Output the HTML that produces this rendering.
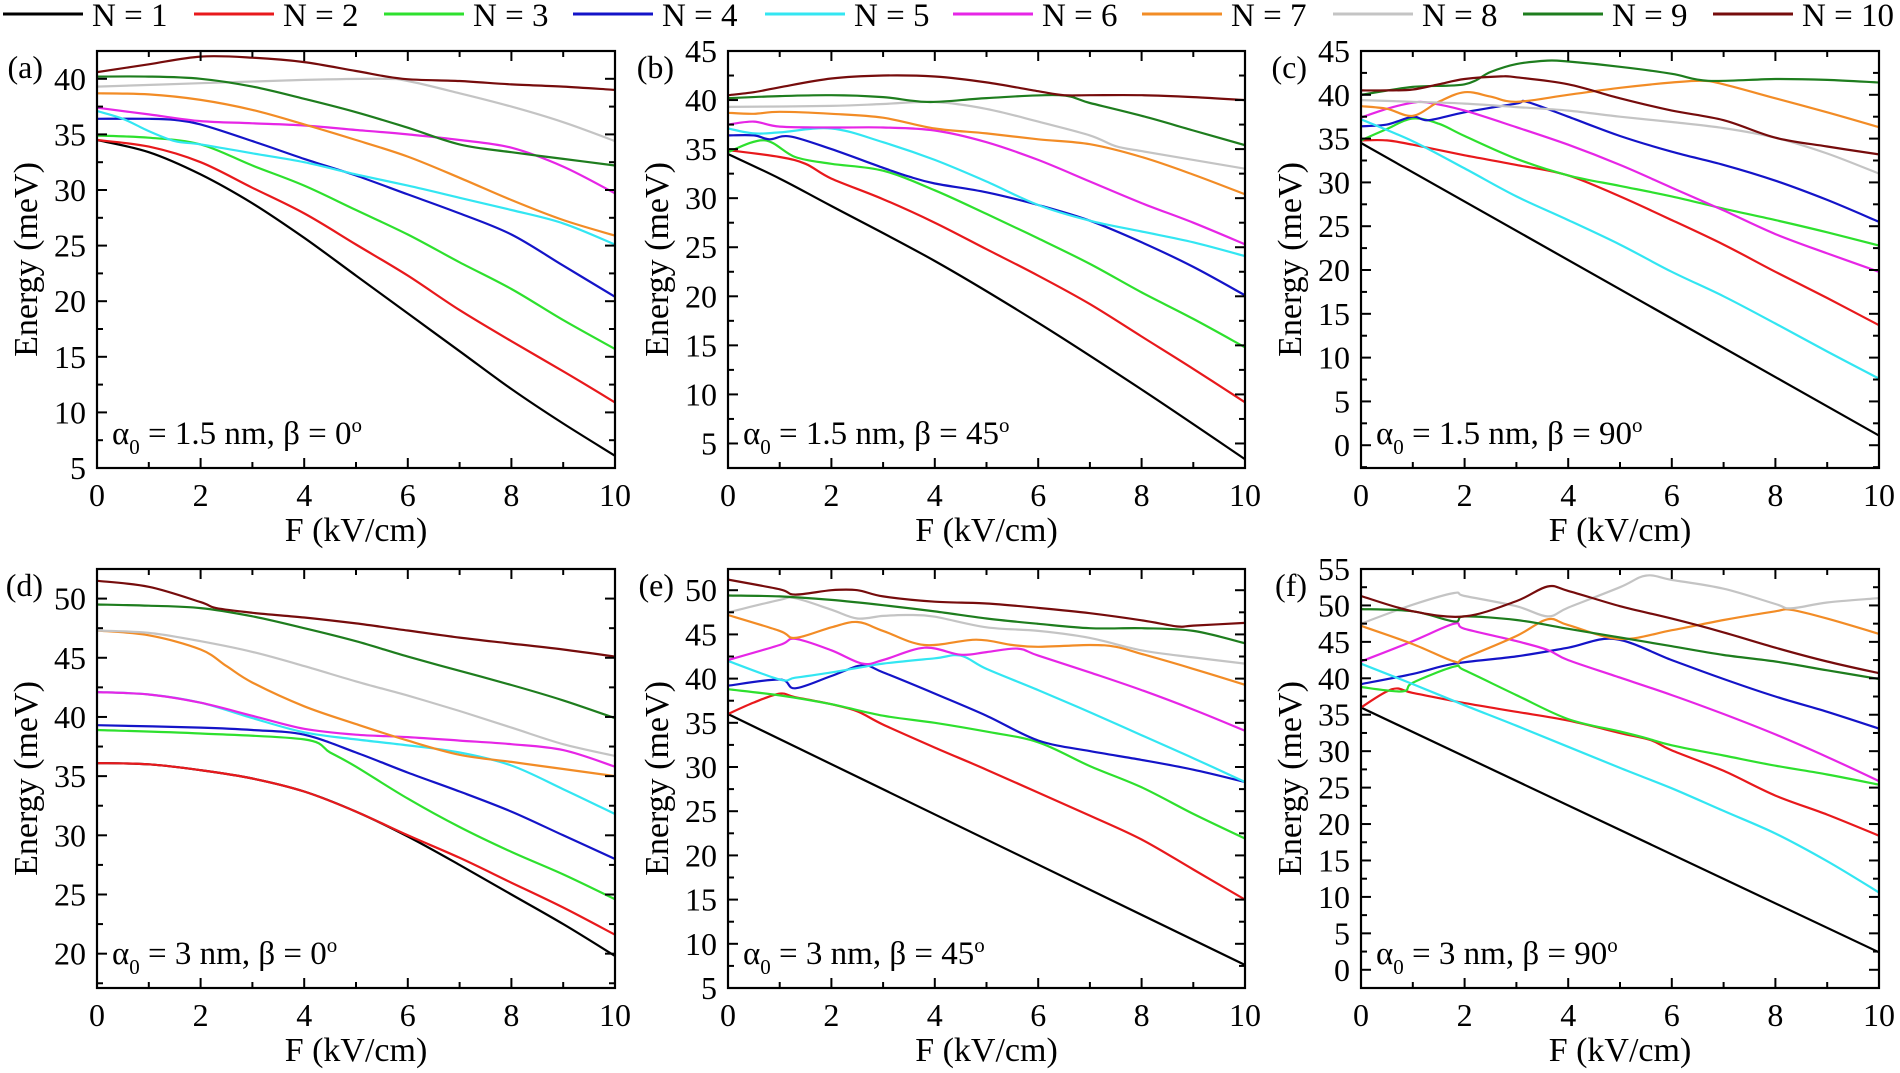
<!DOCTYPE html>
<html><head><meta charset="utf-8">
<style>
html,body{margin:0;padding:0;background:#fff;font-family:"Liberation Serif","DejaVu Serif","Noto Serif CJK SC",serif;}
svg{display:block;}
svg text{font-family:"Liberation Serif","DejaVu Serif","Noto Serif CJK SC",serif;fill:#000;}
</style></head>
<body>
<svg id="s" width="1900" height="1073" viewBox="0 0 1900 1073" xmlns="http://www.w3.org/2000/svg"></svg>
<script>
var FF="'Liberation Serif','DejaVu Serif','Noto Serif CJK SC',serif";
var S=document.getElementById('s');var NS='http://www.w3.org/2000/svg';
function el(t,a,txt){var e=document.createElementNS(NS,t);for(var k in a)e.setAttribute(k,a[k]);if(t=='text'){e.setAttribute('font-family',FF);e.style.fontFamily=FF;}if(txt!=null)e.textContent=txt;S.appendChild(e);return e;}
var C=['#000000','#e8191c','#2ee02e','#1414c8','#33e6f2','#e626e6','#f28c26','#c4c4c4','#1e7d1e','#760c0c'];
var LX=[3,194,384,573,765,953,1142,1333,1523,1713];
for(var i=0;i<10;i++){el('line',{x1:LX[i],y1:14,x2:LX[i]+80,y2:14,stroke:C[i],'stroke-width':3});
el('text',{x:LX[i]+89,y:26,'font-size':33},'N = '+(i+1));}
var cols=[[97,615],[728,1245],[1361,1879]],rows=[[51,468],[569,988]];
var P=[
{l:'(a)',c:0,r:0,y0:5,y1:42.5,t0:5,t1:40,ann:['1.5','0'],d:[
[[0,34.5],[1,33.4],[2,31.4],[3,28.8],[4,25.7],[5,22.3],[6,18.9],[7,15.5],[8,12.1],[9,9.0],[10,6.1]],
[[0,34.5],[1,33.9],[2,32.5],[3,30.2],[4,27.9],[5,25.1],[6,22.3],[7,19.2],[8,16.4],[9,13.7],[10,10.9]],
[[0,34.9],[1,34.7],[2,34.1],[3,32.2],[4,30.4],[5,28.2],[6,26.0],[7,23.5],[8,21.1],[9,18.3],[10,15.7]],
[[0,36.4],[1,36.4],[1.5,36.3],[2,35.9],[3,34.4],[4,32.8],[5,31.3],[6,29.6],[7,27.9],[8,26.0],[9,23.2],[10,20.4]],
[[0,37.1],[0.5,36.4],[1,35.3],[1.5,34.4],[2,34.1],[3,33.3],[4,32.5],[5,31.4],[6,30.4],[7,29.3],[8,28.2],[9,27.0],[10,25.1]],
[[0,37.4],[1,36.8],[2,36.2],[3,36.0],[4,35.8],[5,35.4],[6,35.0],[7,34.5],[8,33.8],[9,32.1],[10,29.7]],
[[0,38.7],[1,38.6],[2,38.1],[3,37.2],[4,35.9],[5,34.5],[6,33.0],[7,31.1],[8,29.1],[9,27.3],[10,25.9]],
[[0,39.3],[2,39.6],[4,39.9],[5.5,40.0],[6,39.8],[7,38.7],[8,37.5],[9,36.1],[10,34.4]],
[[0,40.2],[1,40.2],[2,40.0],[3,39.3],[4,38.2],[5,37.0],[6,35.6],[7,34.1],[8,33.4],[9,32.8],[10,32.2]],
[[0,40.6],[1,41.3],[2,42.0],[3,41.9],[4,41.5],[5,40.7],[5.9,40.0],[7,39.8],[8,39.5],[9,39.3],[10,39.0]]]},
{l:'(b)',c:1,r:0,y0:2.5,y1:45,t0:5,t1:45,ann:['1.5','45'],d:[
[[0,34.5],[1,32.0],[2,29.2],[4,23.6],[6,17.3],[8,10.5],[10,3.4]],
[[0,34.9],[1,34.2],[1.5,33.5],[2,32.0],[3,29.9],[4,27.5],[5,24.8],[6,22.1],[7,19.2],[8,15.9],[9,12.6],[10,9.2]],
[[0,34.7],[0.7,35.9],[1.3,34.2],[2,33.5],[3,32.8],[4,30.8],[5,28.4],[6,25.9],[7,23.3],[8,20.4],[9,17.7],[10,14.8]],
[[0,36.4],[0.5,36.4],[0.8,36.0],[1.2,36.3],[2,35.0],[3,33.1],[3.5,32.2],[4,31.5],[5,30.6],[6,29.3],[7,27.7],[8,25.5],[9,23.0],[10,20.1]],
[[0,37.1],[0.5,36.6],[1,36.7],[2,37.1],[3,35.7],[4,33.9],[5,31.7],[6,29.3],[7,27.7],[8,26.6],[9,25.5],[10,24.1]],
[[0,37.5],[0.5,37.8],[1,37.3],[2,37.2],[3,37.2],[4,36.9],[5,35.7],[6,33.9],[7,31.7],[8,29.5],[9,27.5],[10,25.3]],
[[0,38.7],[0.5,38.6],[1,38.8],[2,38.6],[3,38.2],[4,37.1],[5,36.6],[6,36.0],[7,35.5],[8,34.2],[9,32.4],[10,30.4]],
[[0,39.3],[2,39.4],[3,39.6],[4,39.8],[5,39.1],[6,37.8],[7,36.4],[7.5,35.3],[8,34.8],[9,33.9],[10,33.0]],
[[0,40.2],[1,40.4],[2,40.5],[3,40.3],[3.9,39.8],[5,40.2],[6.4,40.5],[7,39.7],[8,38.4],[9,36.9],[10,35.4]],
[[0,40.5],[0.5,40.8],[1,41.3],[2,42.2],[3,42.5],[4,42.4],[5,41.8],[6,40.9],[6.5,40.5],[7,40.5],[8,40.5],[9,40.3],[10,40.0]]]},
{l:'(c)',c:2,r:0,y0:-2.6,y1:45,t0:0,t1:45,ann:['1.5','90'],d:[
[[0,34.5],[10,1.1]],
[[0,34.8],[0.5,34.8],[1,34.3],[2,33.1],[3,32.0],[4,30.8],[5,28.4],[6,25.7],[7,22.9],[8,19.8],[9,16.8],[10,13.7]],
[[0,34.8],[0.5,36.1],[1,37.3],[1.5,36.7],[2,35.3],[3,32.7],[4,30.8],[5,29.6],[6,28.4],[7,27.0],[8,25.7],[9,24.3],[10,22.8]],
[[0,36.4],[0.5,36.6],[1,37.5],[1.3,37.1],[2,38.0],[3,39.0],[3.2,39.2],[4,37.5],[5,35.3],[6,33.5],[7,32.0],[8,30.2],[9,28.0],[10,25.5]],
[[0,37.2],[1,34.7],[2,31.6],[3,28.4],[4,25.7],[5,22.9],[6,19.8],[7,17.0],[8,13.9],[9,10.7],[10,7.6]],
[[0,37.4],[0.5,38.4],[1,39.1],[1.3,39.1],[2,38.2],[3,36.3],[4,34.3],[5,32.0],[6,29.4],[7,26.8],[8,24.1],[9,21.9],[10,19.8]],
[[0,38.7],[0.5,38.4],[1,37.6],[1.5,39.2],[2,40.3],[2.5,39.8],[3,39.2],[4,40.0],[5,40.8],[6,41.4],[6.6,41.6],[7,41.2],[8,39.6],[9,38.0],[10,36.3]],
[[0,39.4],[1,39.2],[2,39.0],[3,38.6],[4,38.2],[5,37.5],[6,36.9],[7,36.2],[8,35.1],[9,33.3],[10,31.0]],
[[0,40.0],[1,40.9],[2,41.2],[2.5,42.6],[3,43.5],[3.6,43.9],[4,43.8],[5,43.2],[6,42.4],[6.7,41.6],[8,41.8],[9,41.7],[10,41.4]],
[[0,40.5],[0.5,40.5],[1,40.6],[1.5,41.2],[2,41.8],[2.7,42.1],[3,42.0],[4,41.2],[5,39.6],[6,38.2],[7,37.1],[8,35.1],[9,34.1],[10,33.2]]]},
{l:'(d)',c:0,r:1,y0:17.1,y1:52.5,t0:20,t1:50,ann:['3','0'],d:[
[[0,36.1],[1,36.0],[2,35.5],[3,34.8],[4,33.7],[5,32.0],[6,29.9],[7,27.5],[8,25.0],[9,22.5],[10,19.8]],
[[0,36.1],[1,36.0],[2,35.5],[3,34.8],[4,33.7],[5,32.0],[6,30.0],[7,28.1],[8,26.0],[9,23.9],[10,21.6]],
[[0,38.9],[2,38.6],[4,38.1],[4.5,37.0],[5,35.8],[6,33.1],[7,30.7],[8,28.6],[9,26.7],[10,24.6]],
[[0,39.3],[2,39.1],[3,38.9],[4,38.5],[5,37.0],[6,35.3],[7,33.7],[8,32.0],[9,30.0],[10,28.0]],
[[0,42.1],[1,41.9],[2,41.2],[3,39.9],[4,38.7],[5,38.1],[6,37.6],[7,37.0],[8,35.9],[9,33.9],[10,31.8]],
[[0,42.1],[1,41.9],[2,41.2],[3,40.1],[4,39.0],[5,38.5],[6,38.3],[7,38.0],[8,37.7],[9,37.2],[10,35.8]],
[[0,47.3],[1,46.9],[2,45.7],[2.5,44.3],[3,42.9],[4,40.9],[5,39.4],[6,38.0],[7,36.8],[8,36.2],[9,35.6],[10,35.0]],
[[0,47.3],[1,47.1],[2,46.4],[3,45.5],[4,44.3],[5,43.0],[6,41.8],[7,40.5],[8,39.1],[9,37.7],[10,36.7]],
[[0,49.5],[1,49.4],[2,49.2],[3,48.5],[4,47.5],[5,46.4],[6,45.1],[7,43.9],[8,42.7],[9,41.4],[10,39.9]],
[[0,51.5],[1,51.0],[2,49.7],[2.3,49.2],[3,48.8],[4,48.4],[5,47.9],[6,47.3],[7,46.7],[8,46.2],[9,45.7],[10,45.1]]]},
{l:'(e)',c:1,r:1,y0:5,y1:52.4,t0:5,t1:50,ann:['3','45'],d:[
[[0,36.0],[10,7.6]],
[[0,36.0],[0.5,37.3],[1,38.3],[1.3,37.9],[2,37.1],[2.5,36.3],[3,34.8],[4,32.2],[5,29.7],[6,27.1],[7,24.5],[8,21.8],[9,18.4],[10,15.0]],
[[0,38.8],[1,38.1],[2,37.1],[3,35.8],[4,35.0],[5,34.0],[6,32.8],[7,30.1],[8,27.7],[9,24.7],[10,21.9]],
[[0,39.2],[1,39.9],[1.3,38.9],[2,40.3],[2.6,41.5],[3,40.7],[4,38.3],[5,35.8],[6,33.0],[7,31.8],[8,30.8],[9,29.7],[10,28.3]],
[[0,42.0],[1,39.9],[1.3,40.1],[2,40.7],[2.6,41.3],[3,41.7],[4,42.3],[4.5,42.6],[5,41.1],[6,38.7],[7,36.2],[8,33.6],[9,31.0],[10,28.3]],
[[0,42.1],[1,43.8],[1.3,44.5],[2,43.2],[2.6,41.7],[3,42.1],[3.8,43.5],[4.5,42.7],[5,43.0],[5.6,43.4],[6,42.6],[7,40.7],[8,38.7],[9,36.5],[10,34.1]],
[[0,47.2],[1,45.4],[1.3,44.6],[2,45.8],[2.5,46.4],[3,45.4],[3.8,43.8],[4.8,44.4],[5.5,43.8],[6,43.6],[7,43.8],[7.5,43.6],[8,42.8],[9,41.1],[10,39.3]],
[[0,47.5],[1,48.9],[1.3,49.1],[2,47.8],[2.5,46.8],[3,47.1],[3.5,47.2],[4,47.0],[5,45.8],[6,45.4],[7,44.6],[8,43.2],[9,42.4],[10,41.7]],
[[0,49.4],[1,49.3],[2,48.9],[3,48.3],[4,47.6],[5,46.8],[6,46.2],[7,45.7],[8,45.7],[9,45.4],[10,44.0]],
[[0,51.2],[1,50.1],[1.3,49.5],[2,50.0],[2.5,50.0],[3,49.3],[4,48.7],[5,48.5],[6,48.0],[7,47.4],[8,46.6],[8.7,45.9],[9,46.0],[10,46.3]]]},
{l:'(f)',c:2,r:1,y0:-2.5,y1:55,t0:0,t1:55,ann:['3','90'],d:[
[[0,36.0],[10,2.4]],
[[0,36.0],[0.6,38.5],[1,38.0],[2,36.6],[3,35.4],[4,34.2],[5,32.5],[5.6,31.5],[6,30.1],[7,27.3],[8,23.9],[9,21.3],[10,18.4]],
[[0,38.8],[0.8,38.2],[1,39.4],[1.8,41.6],[2,41.1],[3,37.7],[4,34.4],[5,32.7],[5.5,31.8],[6,30.8],[7,29.4],[8,28.0],[9,26.8],[10,25.4]],
[[0,39.2],[1,40.6],[1.8,42.0],[3,43.0],[4,44.2],[4.9,45.4],[6,42.5],[7,39.9],[8,37.5],[9,35.4],[10,33.1]],
[[0,42.0],[1,39.2],[2,36.3],[3,33.5],[4,30.6],[5,27.7],[6,24.9],[7,21.8],[8,18.7],[9,14.9],[10,10.6]],
[[0,42.3],[1,45.1],[1.8,47.5],[2,46.8],[3,45.1],[3.6,43.9],[4,42.5],[5,40.1],[6,37.7],[7,35.1],[8,32.3],[9,29.2],[10,25.9]],
[[0,47.2],[1,44.7],[1.8,42.3],[2,42.8],[3,45.8],[3.6,48.1],[4,47.3],[5,45.4],[6,46.6],[7,48.0],[8,49.2],[8.3,49.4],[9,48.2],[10,46.1]],
[[0,47.5],[1,50.1],[1.8,51.7],[2,51.3],[3,49.9],[3.6,48.5],[4,49.7],[5,52.5],[5.5,54.1],[6,53.5],[7,52.3],[8,50.2],[8.3,49.6],[9,50.4],[10,51.0]],
[[0,49.5],[1,49.2],[1.8,47.8],[2,48.5],[3,48.0],[4,46.8],[5,45.6],[6,44.4],[7,43.2],[8,42.3],[9,41.1],[10,39.9]],
[[0,51.3],[1,49.2],[2,48.5],[3,50.6],[3.6,52.6],[4,52.0],[5,49.9],[6,48.2],[7,46.3],[8,44.2],[9,42.3],[10,40.7]]]}
];
function path(pts){
 if(pts.length<3){return 'M'+pts[0][0].toFixed(1)+','+pts[0][1].toFixed(1)+'L'+pts[1][0].toFixed(1)+','+pts[1][1].toFixed(1);}
 var d='M'+pts[0][0].toFixed(1)+','+pts[0][1].toFixed(1);
 for(var i=0;i<pts.length-1;i++){
  var p0=pts[i>0?i-1:0],p1=pts[i],p2=pts[i+1],p3=pts[i+2<pts.length?i+2:i+1];
  var c1x=p1[0]+(p2[0]-p0[0])/6,c1y=p1[1]+(p2[1]-p0[1])/6,c2x=p2[0]-(p3[0]-p1[0])/6,c2y=p2[1]-(p3[1]-p1[1])/6;
  d+='C'+c1x.toFixed(1)+','+c1y.toFixed(1)+' '+c2x.toFixed(1)+','+c2y.toFixed(1)+' '+p2[0].toFixed(1)+','+p2[1].toFixed(1);
 }
 return d;
}
P.forEach(function(p){
 var x0=cols[p.c][0],x1=cols[p.c][1],yT=rows[p.r][0],yB=rows[p.r][1];
 var X=function(f){return x0+(x1-x0)*f/10;},Y=function(e){return yB-(yB-yT)*(e-p.y0)/(p.y1-p.y0);};
 var id='cp'+p.l[1];
 var cp=el('clipPath',{id:id});var r=document.createElementNS(NS,'rect');r.setAttribute('x',x0);r.setAttribute('y',yT);r.setAttribute('width',x1-x0);r.setAttribute('height',yB-yT);cp.appendChild(r);
 p.d.forEach(function(s,i){var pts=s.map(function(q){return [X(q[0]),Y(q[1])];});
  el('path',{d:path(pts),fill:'none',stroke:C[i],'stroke-width':2.2,'clip-path':'url(#'+id+')'});});
 el('rect',{x:x0,y:yT,width:x1-x0,height:yB-yT,fill:'none',stroke:'#000','stroke-width':2.2});
 for(var f=0;f<=10;f++){var L=f%2==0?10:6,xx=X(f);
  el('line',{x1:xx,y1:yB,x2:xx,y2:yB-L,stroke:'#000','stroke-width':2});
  el('line',{x1:xx,y1:yT,x2:xx,y2:yT+L,stroke:'#000','stroke-width':2});
  if(f%2==0)el('text',{x:xx,y:yB+38,'font-size':32,'text-anchor':'middle'},String(f));}
 for(var e=p.t0-2.5;e<=p.y1+0.01;e+=2.5){if(e<p.y0-0.01)continue;var yy=Y(e),maj=Math.abs((e/5)-Math.round(e/5))<0.01,L=maj?10:6;
  el('line',{x1:x0,y1:yy,x2:x0+L,y2:yy,stroke:'#000','stroke-width':2});
  el('line',{x1:x1,y1:yy,x2:x1-L,y2:yy,stroke:'#000','stroke-width':2});
  if(maj&&e>=p.t0-0.01&&e<=p.t1+0.01)el('text',{x:x0-11,y:yy+11,'font-size':32,'text-anchor':'end'},String(Math.round(e)));}
 el('text',{x:(x0+x1)/2,y:yB+73,'font-size':34,'text-anchor':'middle'},'F (kV/cm)');
 var lx=x0-60,ly=(yT+yB)/2;
 el('text',{x:lx,y:ly,'font-size':34,'text-anchor':'middle',transform:'rotate(-90 '+lx+' '+ly+')'},'Energy (meV)');
 el('text',{x:x0-54,y:yT+27,'font-size':32,'text-anchor':'end'},p.l);
 var t=el('text',{x:x0+15,y:yB-24,'font-size':33});
 var parts=[['α',0],['0',1],[' = '+p.ann[0]+' nm, β = '+p.ann[1],3],['o',2]];
 parts.forEach(function(q){var ts=document.createElementNS(NS,'tspan');ts.textContent=q[0];
  if(q[1]==1){ts.setAttribute('font-size','21');ts.setAttribute('dy','10');}
  if(q[1]==3){ts.setAttribute('dy','-10');}
  if(q[1]==2){ts.setAttribute('font-size','21');ts.setAttribute('dy','-12');}
  t.appendChild(ts);});
});
</script>
</body></html>
